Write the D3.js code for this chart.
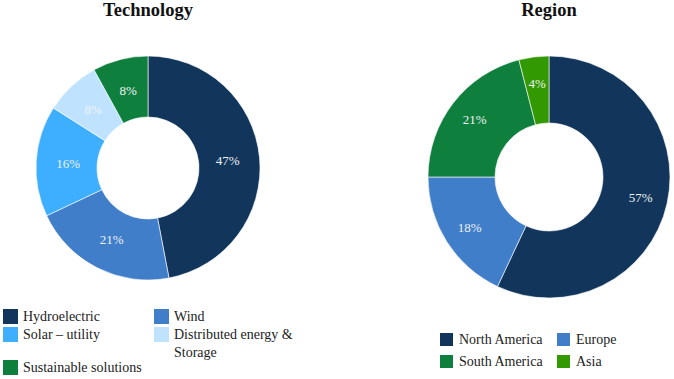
<!DOCTYPE html>
<html>
<head>
<meta charset="utf-8">
<script src="https://cdn.jsdelivr.net/npm/d3@7"></script>
<style>
  body { margin: 0; background: #fff; }
  svg text { font-family: "Liberation Serif", "DejaVu Serif", serif; }
</style>
</head>
<body>
<script>
// data
var techNames = ["Hydroelectric", "Wind", "Solar \u2013 utility", "Distributed energy & Storage", "Sustainable solutions"];
var techValues = [47, 21, 16, 8, 8];
var techColors = ["#12355b", "#407ec9", "#3eaefe", "#bfe3ff", "#0f7f3e"];

var regionNames = ["North America", "Europe", "South America", "Asia"];
var regionValues = [57, 18, 21, 4];
var regionColors = ["#12355b", "#407ec9", "#0f7f3e", "#339900"];

var width = 674, height = 379;
var serif = "'Liberation Serif', 'DejaVu Serif', serif";

var svg = d3.select("body").append("svg")
    .attr("width", width)
    .attr("height", height)
    .style("display", "block");

function donut(cfg) {
    var g = svg.append("g").attr("transform", "translate(" + cfg.cx + "," + cfg.cy + ")");
    var pie = d3.pie().sort(null).value(function(d) { return d; });
    var arc = d3.arc().innerRadius(cfg.inner).outerRadius(cfg.outer);
    var labelArc = d3.arc().innerRadius(cfg.labelR).outerRadius(cfg.labelR);
    var color = d3.scaleOrdinal().domain(d3.range(cfg.values.length)).range(cfg.colors);
    var arcs = pie(cfg.values);

    g.selectAll("path")
        .data(arcs)
        .enter()
        .append("path")
        .attr("d", arc)
        .attr("fill", function(d, i) { return color(i); })
        .attr("stroke", "#fff")
        .attr("stroke-width", 0.6);

    g.selectAll("text.lbl")
        .data(arcs)
        .enter()
        .append("text")
        .attr("class", "lbl")
        .attr("transform", function(d) { return "translate(" + labelArc.centroid(d) + ")"; })
        .attr("dy", "0.35em")
        .attr("text-anchor", "middle")
        .style("font-family", serif)
        .attr("font-size", 13)
        .attr("fill", "#eef2f6")
        .text(function(d) { return d.data + "%"; });

    svg.append("text")
        .attr("x", cfg.cx)
        .attr("y", 16)
        .attr("text-anchor", "middle")
        .style("font-family", serif)
        .attr("font-size", 18.5)
        .attr("font-weight", "bold")
        .attr("fill", "#111")
        .text(cfg.title);
}

donut({cx: 148, cy: 168, outer: 112, inner: 51, labelR: 80,
       values: techValues, colors: techColors, title: "Technology"});
donut({cx: 549, cy: 177, outer: 121, inner: 54, labelR: 94,
       values: regionValues, colors: regionColors, title: "Region"});

// technology legend
var techLegend = [
    {i: 0, x: 3, y: 309, lines: ["Hydroelectric"]},
    {i: 1, x: 154, y: 309, lines: ["Wind"]},
    {i: 2, x: 3, y: 327, lines: ["Solar \u2013 utility"]},
    {i: 3, x: 154, y: 327, lines: ["Distributed energy &", "Storage"]},
    {i: 4, x: 3, y: 360, lines: ["Sustainable solutions"]}
];
var tl = svg.append("g").selectAll("g")
    .data(techLegend)
    .enter()
    .append("g")
    .attr("transform", function(d) { return "translate(" + d.x + "," + d.y + ")"; });
tl.append("rect")
    .attr("width", 15).attr("height", 15)
    .attr("fill", function(d) { return techColors[d.i]; });
tl.append("text")
    .attr("x", 20)
    .attr("y", 12)
    .style("font-family", serif)
    .attr("font-size", 14)
    .attr("fill", "#222")
    .each(function(d) {
        var t = d3.select(this);
        d.lines.forEach(function(line, k) {
            t.append("tspan").attr("x", 20).attr("dy", k ? 17.5 : 0).text(line);
        });
    });

// region legend
var regionLegend = [
    {i: 0, x: 440, y: 333},
    {i: 1, x: 557, y: 333},
    {i: 2, x: 440, y: 355},
    {i: 3, x: 557, y: 355}
];
var rl = svg.append("g").selectAll("g")
    .data(regionLegend)
    .enter()
    .append("g")
    .attr("transform", function(d) { return "translate(" + d.x + "," + d.y + ")"; });
rl.append("rect")
    .attr("width", 13).attr("height", 13)
    .attr("fill", function(d) { return regionColors[d.i]; });
rl.append("text")
    .attr("x", 19)
    .attr("y", 11)
    .style("font-family", serif)
    .attr("font-size", 14)
    .attr("fill", "#222")
    .text(function(d) { return regionNames[d.i]; });
</script>
</body>
</html>
